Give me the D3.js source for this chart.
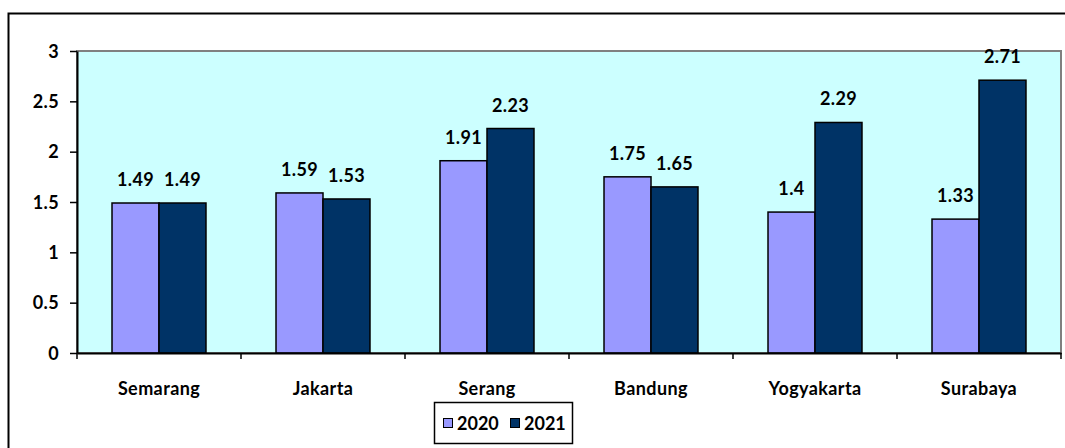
<!DOCTYPE html>
<html>
<head>
<meta charset="utf-8">
<script src="https://cdn.jsdelivr.net/npm/d3@7"></script>
<style>
  body { margin: 0; background: #fff; }
  svg text { font-family: Lato, "Open Sans", sans-serif; font-weight: bold; fill: #000; letter-spacing: 0.4px; }
</style>
</head>
<body>
<svg id="chart" width="1065" height="448"></svg>
<script>
// Chart data
const cities = ['Semarang', 'Jakarta', 'Serang', 'Bandung', 'Yogyakarta', 'Surabaya'];
const years = ['2020', '2021'];
const values2020 = [1.49, 1.59, 1.91, 1.75, 1.4, 1.33];
const values2021 = [1.49, 1.53, 2.23, 1.65, 2.29, 2.71];
const yTicks = [0, 0.5, 1, 1.5, 2, 2.5, 3];

const colors = { '2020': '#9999ff', '2021': '#003366' };

const svg = d3.select('#chart');

// outer chart frame (runs off right and bottom edges)
svg.append('rect')
  .attr('x', 8.5).attr('y', 13.5)
  .attr('width', 1100).attr('height', 500)
  .attr('fill', 'none').attr('stroke', '#000').attr('stroke-width', 2);

const plot = { left: 77, top: 51, right: 1061, bottom: 353 };

const x0 = d3.scaleBand()
  .domain(cities)
  .range([plot.left, plot.right])
  .paddingInner(0).paddingOuter(0);

const x1 = d3.scaleBand()
  .domain(years)
  .range([0, x0.bandwidth()])
  .paddingInner(0).paddingOuter(0.745);

const y = d3.scaleLinear().domain([0, 3]).range([plot.bottom, plot.top]);

// plot background
svg.append('rect')
  .attr('x', plot.left).attr('y', plot.top)
  .attr('width', plot.right - plot.left).attr('height', plot.bottom - plot.top)
  .attr('fill', '#ccffff').attr('stroke', '#808080').attr('stroke-width', 2);

const rows = cities.map((c, i) => ({ city: c, '2020': values2020[i], '2021': values2021[i] }));

const groups = svg.selectAll('.grp')
  .data(rows)
  .enter().append('g')
  .attr('class', 'grp')
  .attr('transform', d => `translate(${x0(d.city)},0)`);

groups.selectAll('rect')
  .data(d => years.map(k => ({ key: k, value: d[k] })))
  .enter().append('rect')
  .attr('x', d => x1(d.key))
  .attr('y', d => y(d.value))
  .attr('width', x1.bandwidth())
  .attr('height', d => plot.bottom - y(d.value))
  .attr('fill', d => colors[d.key])
  .attr('stroke', '#000').attr('stroke-width', 1.5);

groups.selectAll('.lbl')
  .data(d => years.map(k => ({ key: k, value: d[k] })))
  .enter().append('text')
  .attr('class', 'lbl')
  .attr('x', d => x1(d.key) + x1.bandwidth() / 2)
  .attr('y', d => y(d.value) - 17)
  .attr('text-anchor', 'middle')
  .style('font-size', '18px')
  .text(d => d.value);

// axes
const yAxis = svg.append('g')
  .attr('transform', `translate(${plot.left},0)`)
  .call(d3.axisLeft(y).tickValues(yTicks).tickSize(7).tickSizeOuter(0).tickPadding(11).tickFormat(d3.format('')));
yAxis.select('.domain').attr('stroke', '#000').attr('stroke-width', 2);
yAxis.selectAll('.tick line').attr('stroke', '#000').attr('stroke-width', 1.5);
yAxis.selectAll('.tick text')
  .style('font-size', '18px').style('font-family', 'Lato, sans-serif').style('font-weight', 'bold')
  .attr('dy', '0.35em');

const xAxis = svg.append('g')
  .attr('transform', `translate(0,${plot.bottom})`)
  .call(d3.axisBottom(x0).tickSize(0).tickPadding(0));
xAxis.select('.domain').attr('stroke', '#000').attr('stroke-width', 2);
xAxis.selectAll('.tick text')
  .style('font-size', '18px').style('font-family', 'Lato, sans-serif').style('font-weight', 'bold')
  .attr('y', 42).attr('dy', 0);

// category separator ticks
svg.selectAll('.xsep')
  .data(cities.concat(['end']))
  .enter().append('line')
  .attr('x1', (d, i) => plot.left + i * x0.bandwidth())
  .attr('x2', (d, i) => plot.left + i * x0.bandwidth())
  .attr('y1', plot.bottom).attr('y2', plot.bottom + 6)
  .attr('stroke', '#000').attr('stroke-width', 1.5);

// legend
const legend = svg.append('g').attr('transform', 'translate(434,402)');
legend.append('rect')
  .attr('x', 0.5).attr('y', 0.5).attr('width', 138).attr('height', 41)
  .attr('fill', '#fff').attr('stroke', '#000').attr('stroke-width', 1.5);

const items = legend.selectAll('.item')
  .data(years)
  .enter().append('g')
  .attr('transform', (d, i) => `translate(${9 + i * 67},0)`);
items.append('rect')
  .attr('x', 0.5).attr('y', 16.5).attr('width', 9).attr('height', 9)
  .attr('fill', d => colors[d]).attr('stroke', '#000').attr('stroke-width', 1);
items.append('text')
  .attr('x', 14).attr('y', 28)
  .style('font-size', '18px')
  .style('letter-spacing', '0px')
  .text(d => d);
</script>
</body>
</html>
